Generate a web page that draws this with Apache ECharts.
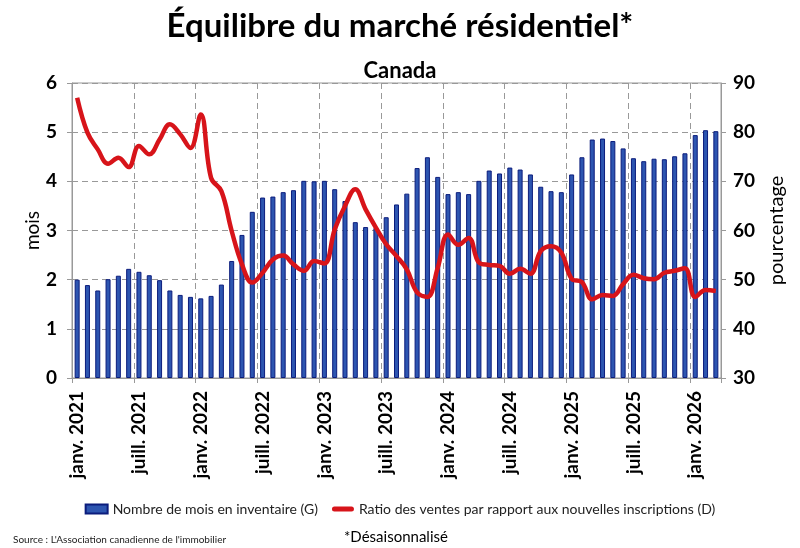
<!DOCTYPE html>
<html>
<head>
<meta charset="utf-8">
<script src="https://cdn.jsdelivr.net/npm/echarts@6/dist/echarts.min.js"></script>
<style>
html,body{margin:0;padding:0;background:#fff;}
#chart{width:800px;height:548px;}
</style>
</head>
<body>
<div id="chart"></div>
<script>
// mois et années pour les catégories
var moisNoms = ['janv.','févr.','mars','avr.','mai','juin','juill.','août','sept.','oct.','nov.','déc.'];
var annees = [2021, 2022, 2023, 2024, 2025, 2026];
var nbMois = 63; // janv. 2021 -> mars 2026

var categories = [];
for (var i = 0; i < nbMois; i++) {
	categories.push(moisNoms[i % 12] + ' ' + annees[Math.floor(i / 12)]);
}

// Nombre de mois en inventaire (G)
var inventaire = [
	2.00, 1.89, 1.78, 2.01, 2.08, 2.22, 2.16, 2.09, 1.99, 1.78, 1.69, 1.65,
	1.62, 1.67, 1.90, 2.38, 2.91, 3.38, 3.67, 3.69, 3.78, 3.82, 4.01, 4.00,
	4.01, 3.84, 3.60, 3.17, 3.07, 3.05, 3.27, 3.53, 3.75, 4.27, 4.49, 4.09,
	3.74, 3.78, 3.74, 4.01, 4.22, 4.16, 4.28, 4.24, 4.14, 3.89, 3.80, 3.78,
	4.14, 4.49, 4.85, 4.87, 4.82, 4.67, 4.47, 4.41, 4.46, 4.45, 4.51, 4.57,
	4.94, 5.04, 5.02
];

// Ratio des ventes par rapport aux nouvelles inscriptions (D)
var ratioVentes = [
	87.0, 79.9, 76.5, 73.6, 74.8, 72.9, 77.2, 75.5, 78.5, 81.6, 79.6, 76.8,
	83.6, 70.7, 68.0, 59.9, 53.1, 49.4, 51.4, 54.1, 54.9, 53.1, 51.8, 53.8,
	53.3, 60.2, 65.0, 68.4, 64.3, 60.6, 57.2, 54.8, 52.1, 47.4, 46.5, 52.4,
	59.2, 57.1, 58.5, 53.5, 53.0, 52.8, 51.2, 52.2, 51.2, 55.8, 56.8, 55.5,
	50.2, 49.5, 46.0, 46.9, 46.7, 49.1, 51.0, 50.3, 50.1, 51.4, 51.8, 52.3,
	46.5, 47.9, 47.7
];

var nomBarres = 'Nombre de mois en inventaire (G)';
var nomLigne = 'Ratio des ventes par rapport aux nouvelles inscriptions (D)';

var police = 'Lato';
var chartObj = document.getElementById('chart');
var chart = echarts.init(chartObj);

var option = {
	backgroundColor: '#fff',
	textStyle: { fontFamily: police },
	title: [
		{
			text: 'Équilibre du marché résidentiel*',
			left: 'center',
			top: 5,
			textStyle: { fontSize: 33, fontWeight: 'bold', color: '#000', fontFamily: police }
		},
		{
			text: 'Canada',
			left: 'center',
			top: 55,
			textStyle: { fontSize: 22, fontWeight: 'bold', color: '#000', fontFamily: police }
		},
		{
			text: "Source : L'Association canadienne de l'immobilier",
			left: 8,
			top: 530,
			textStyle: { fontSize: 10, fontWeight: 'normal', color: '#222', fontFamily: police }
		},
		{
			text: '*Désaisonnalisé',
			left: 339,
			top: 525,
			textStyle: { fontSize: 15, fontWeight: 'normal', color: '#000', fontFamily: police }
		}
	],
	legend: {
		top: 497,
		left: 'center',
		itemWidth: 22,
		itemHeight: 9,
		itemGap: 14,
		textStyle: { fontSize: 14, color: '#222', fontFamily: police },
		data: [
			{ name: nomBarres, icon: 'rect' },
			{ name: nomLigne, icon: 'path://M2.5,0 L19.5,0 A2.5,2.5 0 0 1 19.5,5 L2.5,5 A2.5,2.5 0 0 1 2.5,0 Z' }
		]
	},
	grid: {
		left: 72,
		right: 79,
		top: 83,
		height: 295,
		show: true,
		borderColor: '#999',
		borderWidth: 1
	},
	xAxis: {
		type: 'category',
		data: categories,
		boundaryGap: true,
		axisLine: { lineStyle: { color: '#999' } },
		axisTick: { show: true, interval: 5, length: 5, lineStyle: { color: '#999' } },
		axisLabel: {
			interval: 5,
			rotate: 90,
			fontSize: 19,
			fontWeight: 'bold',
			color: '#000',
			margin: 13
		},
		splitLine: {
			show: true,
			interval: 5,
			lineStyle: { color: '#999', type: [6, 4], width: 1 }
		}
	},
	yAxis: [
		{
			type: 'value',
			min: 0,
			max: 6,
			interval: 1,
			name: 'mois',
			nameLocation: 'middle',
			nameGap: 30,
			nameMoveOverlap: false,
			nameTextStyle: { fontSize: 19, color: '#000' },
			axisLine: { show: true, lineStyle: { color: '#999' } },
			axisTick: { show: true, length: 5, lineStyle: { color: '#999' } },
			axisLabel: { fontSize: 19, fontWeight: 'bold', color: '#000', margin: 15 },
			splitLine: { show: true, lineStyle: { color: '#999', type: [6, 4], width: 1 } }
		},
		{
			type: 'value',
			min: 30,
			max: 90,
			interval: 10,
			name: 'pourcentage',
			nameLocation: 'middle',
			nameGap: 46,
			nameRotate: 90,
			nameTextStyle: { fontSize: 20, color: '#000' },
			axisLine: { show: true, lineStyle: { color: '#999' } },
			axisTick: { show: true, length: 5, lineStyle: { color: '#999' } },
			axisLabel: { fontSize: 19, fontWeight: 'bold', color: '#000', margin: 12 },
			splitLine: { show: false }
		}
	],
	series: [
		{
			name: nomBarres,
			type: 'bar',
			yAxisIndex: 0,
			barWidth: 5,
			itemStyle: { color: '#2D55B0', borderColor: '#0B1C7C', borderWidth: 1 },
			data: inventaire
		},
		{
			name: nomLigne,
			type: 'line',
			yAxisIndex: 1,
			symbol: 'none',
			smooth: 0.4,
			lineStyle: { color: '#D7141A', width: 4.5 },
			itemStyle: { color: '#D7141A' },
			data: ratioVentes
		}
	]
};

chart.setOption(option);
</script>
</body>
</html>
